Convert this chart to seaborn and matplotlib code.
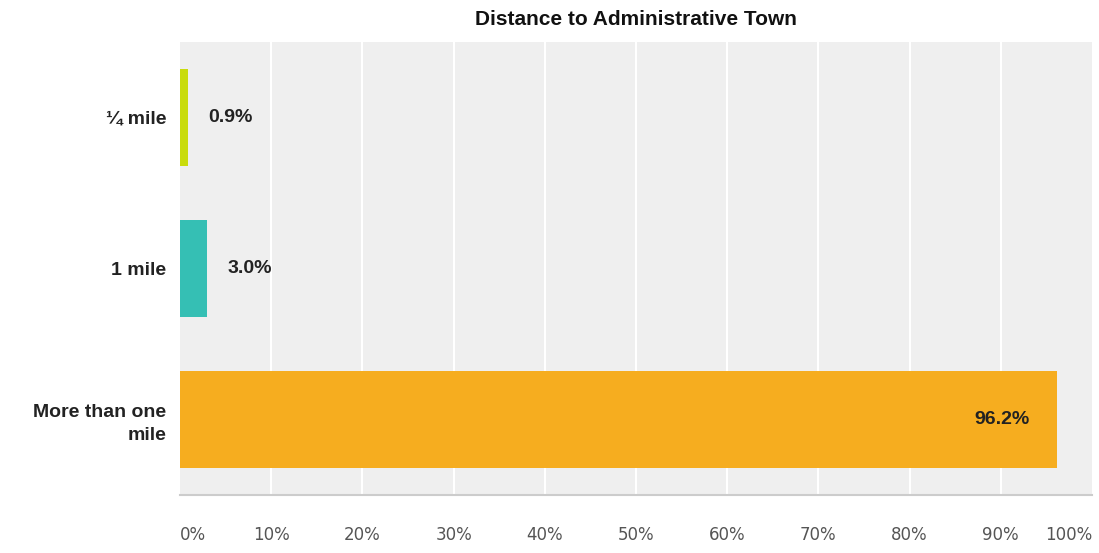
import matplotlib
matplotlib.use("Agg")
import matplotlib.pyplot as plt
import seaborn as sns
import pandas as pd

categories = ["\u00bc mile", "1 mile", "More than one\nmile"]
values = [0.9, 3.0, 96.2]
colors = ["#c9dc0c", "#35bfb4", "#f6ad1f"]
tick_values = [0, 10, 20, 30, 40, 50, 60, 70, 80, 90, 100]
tick_labels = ["0%", "10%", "20%", "30%", "40%", "50%", "60%", "70%", "80%", "90%", "100%"]
title = "Distance to Administrative Town"

sns.set_theme(style="white")
plt.rcParams["font.family"] = ["Liberation Sans", "DejaVu Sans"]

df = pd.DataFrame({"category": categories, "value": values})

fig = plt.figure(figsize=(10.99, 5.53), dpi=100)
ax = fig.add_axes([0.1638, 0.1049, 0.8298, 0.8192])
ax.set_facecolor("#efefef")

sns.barplot(data=df, x="value", y="category", hue="category", palette=colors,
            orient="h", width=0.64, legend=False, ax=ax, zorder=3,
            saturation=1, linewidth=0, edgecolor="none")

ax.set_xlim(0, 100)
ax.set_ylim(2.5, -0.5)
ax.set_xticks(tick_values)
ax.set_xticklabels(tick_labels, fontsize=12, color="#555555",
                   family=["DejaVu Sans"])
labels = ax.get_xticklabels()
labels[0].set_horizontalalignment("left")
labels[-1].set_horizontalalignment("right")
ax.tick_params(axis="x", length=0, pad=22)
ax.tick_params(axis="y", length=0, pad=10)
for lab in ax.get_yticklabels():
    lab.set_fontsize(14)
    lab.set_fontweight("bold")
    lab.set_color("#222222")
    lab.set_horizontalalignment("right")
    lab.set_multialignment("right")
    lab.set_linespacing(1.45)

for x in tick_values[1:-1]:
    ax.axvline(x, color="white", lw=1.5, zorder=1)

for s in ["top", "right", "left"]:
    ax.spines[s].set_visible(False)
ax.spines["bottom"].set_color("#cccccc")
ax.spines["bottom"].set_linewidth(1.5)

ax.set_xlabel("")
ax.set_ylabel("")

for i, v in enumerate(values):
    if v > 50:
        ax.text(v - 3, i, f"{v:.1f}%", ha="right", va="center", fontsize=14,
                fontweight="bold", color="#222222", zorder=4)
    else:
        ax.text(v + 2.2, i, f"{v:.1f}%", ha="left", va="center", fontsize=14,
                fontweight="bold", color="#222222", zorder=4)

fig.text(0.579, 0.965, title, ha="center", va="center", fontsize=15,
         fontweight="bold", color="#111111")

fig.savefig("out.png", dpi=100, facecolor="white")
